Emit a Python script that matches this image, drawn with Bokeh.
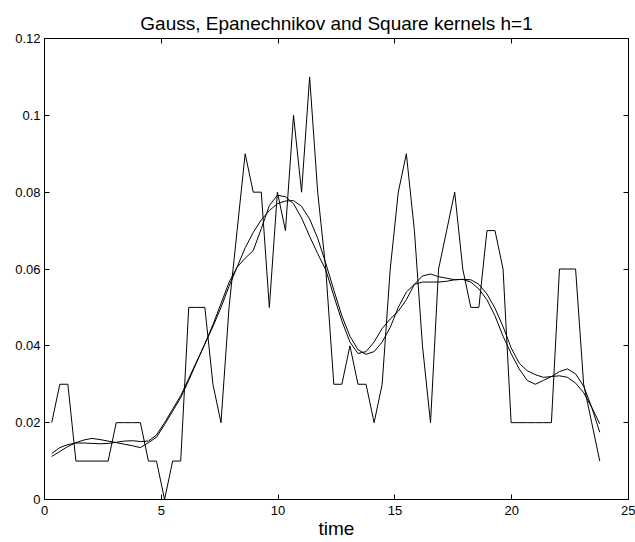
from bokeh.plotting import figure
from bokeh.models import FixedTicker, LinearAxis, Range1d
from bokeh.embed import file_html
from bokeh.resources import INLINE

# x positions (time) of the samples
time = [0.310, 0.655, 1.000, 1.345, 1.690, 2.035, 2.380, 2.725, 3.070, 3.415,
        3.760, 4.105, 4.450, 4.795, 5.140, 5.485, 5.830, 6.175, 6.520, 6.865,
        7.210, 7.555, 7.900, 8.245, 8.590, 8.935, 9.280, 9.625, 9.970, 10.315,
        10.660, 11.005, 11.350, 11.695, 12.040, 12.385, 12.730, 13.075, 13.420, 13.765,
        14.110, 14.455, 14.800, 15.145, 15.490, 15.835, 16.180, 16.525, 16.870, 17.215,
        17.560, 17.905, 18.250, 18.595, 18.940, 19.285, 19.630, 19.975, 20.320, 20.665,
        21.010, 21.355, 21.700, 22.045, 22.390, 22.735, 23.080, 23.425, 23.770]

# jagged series
square = [0.02, 0.03, 0.03, 0.01, 0.01, 0.01, 0.01, 0.01, 0.02, 0.02,
          0.02, 0.02, 0.01, 0.01, 0.00, 0.01, 0.01, 0.05, 0.05, 0.05,
          0.03, 0.02, 0.05, 0.07, 0.09, 0.08, 0.08, 0.05, 0.08, 0.07,
          0.10, 0.08, 0.11, 0.08, 0.06, 0.03, 0.03, 0.04, 0.03, 0.03,
          0.02, 0.03, 0.06, 0.08, 0.09, 0.07, 0.04, 0.02, 0.06, 0.07,
          0.08, 0.06, 0.05, 0.05, 0.07, 0.07, 0.06, 0.02, 0.02, 0.02,
          0.02, 0.02, 0.02, 0.06, 0.06, 0.06, 0.03, 0.02, 0.01]

# Epanechnikov-like smooth curve (bumpier)
epan = [0.0112, 0.0125, 0.0138, 0.0148, 0.0155, 0.0159, 0.0156, 0.0152, 0.0148, 0.0144,
        0.0140, 0.0135, 0.0148, 0.0162, 0.0195, 0.0230, 0.0265, 0.0310, 0.0358, 0.0405,
        0.0455, 0.0510, 0.0565, 0.0605, 0.0628, 0.0648, 0.0705, 0.0765, 0.0792, 0.0788,
        0.0770, 0.0733, 0.0685, 0.0640, 0.0598, 0.0530, 0.0465, 0.0410, 0.0380, 0.0385,
        0.0410, 0.0445, 0.0470, 0.0490, 0.0520, 0.0560, 0.0582, 0.0587, 0.0580, 0.0576,
        0.0572, 0.0573, 0.0566, 0.0548, 0.0520, 0.0478, 0.0425, 0.0380, 0.0340, 0.0310,
        0.0300, 0.0310, 0.0320, 0.0333, 0.0340, 0.0327, 0.0295, 0.0240, 0.0175]

# Gauss smooth curve
gauss = [0.0120, 0.0135, 0.0143, 0.0147, 0.0147, 0.0146, 0.0145, 0.0146, 0.0149, 0.0152,
         0.0153, 0.0151, 0.0152, 0.0168, 0.0200, 0.0235, 0.0270, 0.0315, 0.0360, 0.0405,
         0.0450, 0.0500, 0.0555, 0.0605, 0.0655, 0.0695, 0.0728, 0.0752, 0.0770, 0.0777,
         0.0778, 0.0763, 0.0730, 0.0680, 0.0615, 0.0545, 0.0478, 0.0425, 0.0390, 0.0378,
         0.0385, 0.0410, 0.0448, 0.0500, 0.0540, 0.0560, 0.0566, 0.0566, 0.0566, 0.0568,
         0.0572, 0.0573, 0.0572, 0.0560, 0.0535, 0.0498, 0.0450, 0.0395, 0.0355, 0.0335,
         0.0325, 0.0318, 0.0320, 0.0322, 0.0318, 0.0303, 0.0278, 0.0240, 0.0197]

x_ticks = [0, 5, 10, 15, 20, 25]
y_ticks = [0, 0.02, 0.04, 0.06, 0.08, 0.1, 0.12]
y_tick_labels = ["0", "0.02", "0.04", "0.06", "0.08", "0.1", "0.12"]

FONT = "Liberation Sans"

p = figure(width=635, height=542, output_backend="svg", toolbar_location=None,
           x_range=Range1d(0, 25), y_range=Range1d(0, 0.12),
           min_border_left=44, min_border_right=7, min_border_top=38, min_border_bottom=43,
           title="Gauss, Epanechnikov and Square kernels h=1")

p.title.text_font = FONT
p.title.text_font_size = "19px"
p.title.text_font_style = "normal"
p.title.text_color = "black"
p.title.align = "center"

p.grid.visible = False
p.outline_line_color = "black"
p.outline_line_width = 1
p.background_fill_color = "white"
p.border_fill_color = "white"

def style_axis(ax, ticks, show_labels):
    ax.ticker = FixedTicker(ticks=ticks)
    ax.major_tick_in = 5
    ax.major_tick_out = 0
    ax.minor_tick_line_color = None
    ax.axis_line_color = "black"
    ax.major_tick_line_color = "black"
    ax.major_label_text_font = FONT
    if show_labels:
        ax.major_label_text_color = "black"
        ax.major_label_text_font_size = "13px"
    else:
        # tick marks only (mirror axes of the box), no labels drawn
        ax.major_label_text_color = None
        ax.major_label_text_font_size = "1px"
        ax.major_label_standoff = 0

xa = p.xaxis[0]
style_axis(xa, x_ticks, True)
xa.major_label_standoff = 6
xa.axis_label = "time"
xa.axis_label_text_font = FONT
xa.axis_label_text_font_size = "19px"
xa.axis_label_text_font_style = "normal"
xa.axis_label_text_color = "black"
xa.axis_label_standoff = 0

ya = p.yaxis[0]
style_axis(ya, y_ticks, True)
ya.major_label_standoff = 4
ya.major_label_overrides = {v: s for v, s in zip(y_ticks, y_tick_labels)}

top_ax = LinearAxis()
style_axis(top_ax, x_ticks, False)
p.add_layout(top_ax, "above")
right_ax = LinearAxis()
style_axis(right_ax, y_ticks, False)
p.add_layout(right_ax, "right")

for series in (square, epan, gauss):
    p.line(time, series, line_color="black", line_width=1)

open("out.html", "w").write(file_html(p, INLINE))
